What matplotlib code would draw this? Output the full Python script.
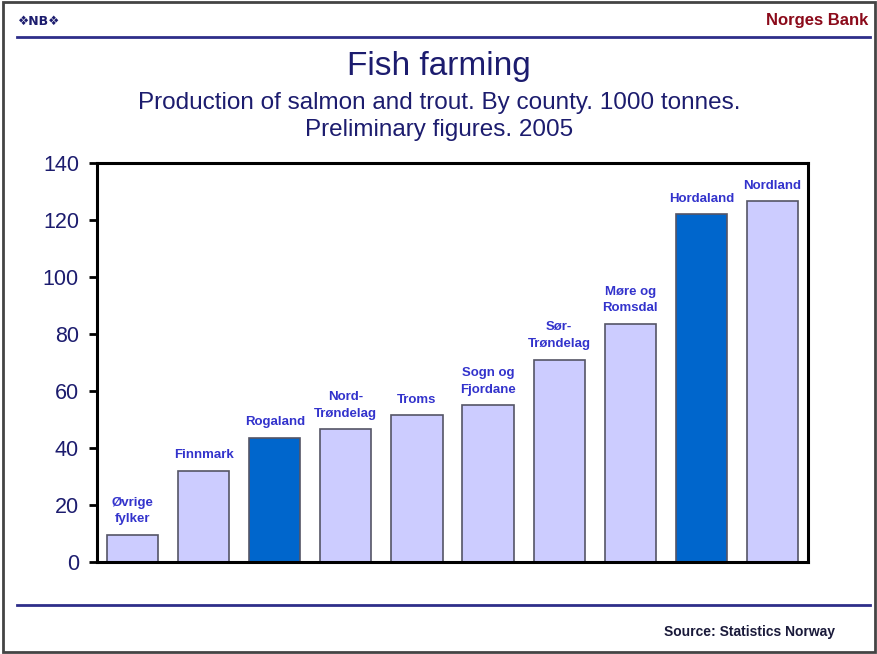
import matplotlib.pyplot as plt
from matplotlib.lines import Line2D

plt.rcParams['font.family'] = ['Liberation Sans', 'DejaVu Sans']

# Data
counties = ['Øvrige\nfylker', 'Finnmark', 'Rogaland', 'Nord-\nTrøndelag', 'Troms',
            'Sogn og\nFjordane', 'Sør-\nTrøndelag', 'Møre og\nRomsdal', 'Hordaland', 'Nordland']
production = [9.5, 32, 43.5, 46.5, 51.5, 55, 71, 83.5, 122, 126.5]
highlight = [False, False, True, False, False, False, False, False, True, False]
yticks = [0, 20, 40, 60, 80, 100, 120, 140]

navy = '#1c1c6e'
light = '#ccccff'
dark = '#0066cc'
label_col = '#3333cc'

fig = plt.figure(figsize=(8.78, 6.54), dpi=100)
ax = fig.add_axes([97 / 878, 1 - 562 / 654, (808 - 97) / 878, (562 - 163) / 654])

colors = [dark if h else light for h in highlight]
x = range(len(counties))
bars = ax.bar(x, production, width=0.72, color=colors, edgecolor='#555566', linewidth=1.2)

for xi, v, lab in zip(x, production, counties):
    ax.annotate(lab, (xi, v), xytext=(0, 7), textcoords='offset points',
                ha='center', va='bottom', fontsize=9.5, color=label_col,
                fontweight='bold', linespacing=1.5)

ax.set_xlim(-0.5, 9.5)
ax.set_ylim(0, 140)
ax.set_yticks(yticks)
ax.set_xticks([])
ax.tick_params(axis='y', labelsize=15.5, length=6, width=2, direction='out',
               labelcolor=navy, pad=7)
for s in ax.spines.values():
    s.set_linewidth(2.2)

# Titles
fig.text(0.5, 1 - 67 / 654, 'Fish farming', ha='center', va='center', fontsize=24, color=navy)
fig.text(0.5, 1 - 103 / 654, 'Production of salmon and trout. By county. 1000 tonnes.',
         ha='center', va='center', fontsize=17.5, color=navy)
fig.text(0.5, 1 - 130 / 654, 'Preliminary figures. 2005',
         ha='center', va='center', fontsize=17.5, color=navy)

# Header / footer
fig.text(18 / 878, 1 - 21 / 654, '❖NB❖', ha='left', va='center', fontsize=9,
         fontweight='bold', color=navy, family=['DejaVu Sans'])
fig.text(868 / 878, 1 - 20 / 654, 'Norges Bank', ha='right', va='center', fontsize=12,
         fontweight='bold', color='#8b0a1a')
fig.add_artist(Line2D([17 / 878, 870 / 878], [1 - 37 / 654] * 2, color='#2e2e8a', lw=2))
fig.add_artist(Line2D([17 / 878, 870 / 878], [1 - 605 / 654] * 2, color='#2e2e8a', lw=2))
fig.text(835 / 878, 1 - 632 / 654, 'Source: Statistics Norway', ha='right', va='center',
         fontsize=10, fontweight='bold', color='#1a1a3a')

# outer frame
fig.add_artist(plt.Rectangle((0.003, 0.003), 0.994, 0.994, fill=False, ec='#444444',
                             lw=2, transform=fig.transFigure))

fig.savefig('out.png', dpi=100)
